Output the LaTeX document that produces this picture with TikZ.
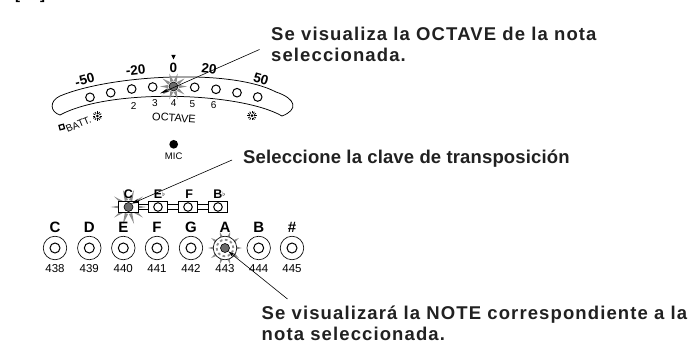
\documentclass[tikz,border=0pt]{standalone}
\usepackage{fontspec}
\setmainfont{Liberation Sans}
\usetikzlibrary{arrows.meta,calc}
\definecolor{burst}{gray}{0.55}
\definecolor{lit}{gray}{0.42}
\definecolor{ink}{gray}{0.13}
\tikzset{
  ledon/.style={circle,draw=black,line width=.6pt,fill=lit,inner sep=0pt,minimum size=9pt},
  led/.style={circle,draw=black,line width=1pt,fill=white,inner sep=0pt,minimum size=8.6pt},
  ring/.style={circle,draw=black,line width=.65pt,fill=white,inner sep=0pt,minimum size=23.5pt},
  inner/.style={circle,draw=black,line width=1pt,fill=white,inner sep=0pt,minimum size=10pt},
  sel/.style={rectangle,draw=black,line width=.7pt,fill=white,inner sep=0pt,minimum width=19.5pt,minimum height=10.5pt},
  scalelab/.style={font=\bfseries\fontsize{13.5}{14}\selectfont,inner sep=0pt},
  keylab/.style={font=\bfseries\fontsize{12.5}{13}\selectfont,inner sep=0pt},
  notelab/.style={font=\bfseries\fontsize{15}{16}\selectfont,inner sep=0pt},
  freq/.style={font=\fontsize{11.5}{12}\selectfont,inner sep=0pt},
  sm/.style={font=\fontsize{10}{11}\selectfont,inner sep=0pt},
  note/.style={text=ink,font=\bfseries\fontsize{18.5}{21}\selectfont,inner sep=0pt,anchor=north west,align=left},
  lead/.style={line width=.6pt,draw=black},
  spike/.style={fill=burst,draw=none},
}
\newcommand{\spikes}[5]{% centre, base radius, tip radius, half base angle, step
  \foreach \a in {0,#5,...,359}{\fill[spike] ($(#1)+(\a-#4:#2)$) -- ($(#1)+(\a:#3)$) -- ($(#1)+(\a+#4:#2)$) -- cycle;}}
\begin{document}
\begin{tikzpicture}[x=1pt,y=-1pt]
\useasboundingbox (0,0) rectangle (693,342);
\fill[white] (0,0) rectangle (693,342);
% cropped heading
\node[inner sep=0pt,anchor=base west,font=\bfseries\fontsize{15}{16}\selectfont] (head) at (15,0) {[\hspace{20pt}]};
% tuner outline
\draw[line width=.75pt,fill=white]
  (60,115) .. controls (50,112) and (49,101) .. (60,96)
  .. controls (110,75) and (230,68) .. (276,92)
  .. controls (297,99) and (298,110) .. (282,116)
  .. controls (240,92) and (110,88) .. (60,115) -- cycle;
% scale labels
\node[scalelab,rotate=15] (m50) at (84.7,80) {-50};
\node[scalelab,rotate=6] (m20) at (135.7,70) {-20};
\node[scalelab] (z) at (173.5,67.7) {0};
\node[scalelab,rotate=-6] (p20) at (209,69) {20};
\node[scalelab,rotate=-16] (p50) at (261,79) {50};
\fill (171.3,55) -- (175.7,55) -- (173.5,59.5) -- cycle;
% LEDs
\coordinate (c0) at (173.5,86.5);
\spikes{c0}{5.5}{13.5}{17}{36}
\node[led] (l1) at (90,97.3) {};
\node[led] (l2) at (110.7,92.7) {};
\node[led] (l3) at (131.7,89) {};
\node[led] (l4) at (152.7,87) {};
\node[ledon] (l5) at (173.5,86.5) {};
\node[led] (l6) at (194.7,87.3) {};
\node[led] (l7) at (216,89.3) {};
\node[led] (l8) at (237,92.7) {};
\node[led] (l9) at (257.7,97) {};
% octave digits
\node[sm] (o2) at (133.7,105.7) {2};
\node[sm] (o3) at (155,103.3) {3};
\node[sm] (o4) at (173.7,103.3) {4};
\node[sm] (o5) at (192.3,103.7) {5};
\node[sm] (o6) at (213.7,105.3) {6};
\node[sm,rotate=-4,font=\fontsize{11}{12}\selectfont] (oct) at (174,118) {OCTAVE};
\node[sm,rotate=23] (batt) at (78.5,124.5) {BATT.};
\draw[line width=1.3pt,rotate around={15:(61.7,127)}] (59.5,124.8) rectangle (64,129.3);
\node[circle,fill=black,inner sep=0pt,minimum size=3pt] (s1) at (97.3,116) {};
\node[circle,fill=black,inner sep=0pt,minimum size=3pt] (s2) at (252,115.7) {};
\foreach \a in {0,30,...,330}{
  \draw[line width=.8pt] ($(s1)+(\a:2.4)$) -- ($(s1)+(\a:4.6)$);
  \draw[line width=.8pt] ($(s2)+(\a:2.4)$) -- ($(s2)+(\a:4.6)$);}
% mic
\node[circle,fill=black,inner sep=0pt,minimum size=8.7pt] (micd) at (173.7,144.3) {};
\node[sm,font=\fontsize{9.5}{10}\selectfont] (mic) at (173.7,156.7) {MIC};
% callouts
\node[note] (t1) at (271,26.5) {\addfontfeature{LetterSpace=6}Se visualiza la OCTAVE de la nota\\\addfontfeature{LetterSpace=6}seleccionada.};
\node[note,anchor=base west] (t2) at (243,164) {\addfontfeature{LetterSpace=0.8}Seleccione la clave de transposición};
\node[note] (t3) at (261.5,305.5) {\addfontfeature{LetterSpace=6}Se visualizará la NOTE correspondiente a la\\\addfontfeature{LetterSpace=6}nota seleccionada.};
% selector row
\coordinate (c1) at (128.5,207);
\spikes{c1}{7}{18}{14}{36}
\node[sel] (s-c) at (128.5,207) {};
\node[sel] (s-e) at (158,207) {};
\node[sel] (s-f) at (188,207) {};
\node[sel] (s-b) at (218,207) {};
\foreach \p/\q in {s-c/s-e,s-e/s-f,s-f/s-b}{
  \draw[line width=.7pt] ($(\p.east)+(0,-2.5)$) -- ($(\q.west)+(0,-2.5)$);
  \draw[line width=.7pt] ($(\p.east)+(0,2.5)$) -- ($(\q.west)+(0,2.5)$);}
\node[ledon] (d1) at (128.5,207) {};
\node[led] (d2) at (158,207) {};
\node[led] (d3) at (188,207) {};
\node[led] (d4) at (218,207) {};
\node[keylab] (lc) at (128.5,194) {C};
\node[keylab] (le) at (159.5,194) {E\raisebox{2pt}{\fontsize{6}{6}\selectfont\mdseries$\flat$}};
\node[keylab] (lf) at (189.3,194) {F};
\node[keylab] (lb) at (219.5,194) {B\raisebox{2pt}{\fontsize{6}{6}\selectfont\mdseries$\flat$}};
% note row
\foreach \nn/\xx/\ll/\ff in {a/55/C/438,b/89.3/D/439,c/123.3/E/440,d/157/F/441,e/191/G/442,g/258.7/B/444,h/292/\#/445}{
  \node[ring] (r\nn) at (\xx,248) {};
  \node[inner] (i\nn) at (\xx,248) {};
  \node[notelab] (n\nn) at (\xx,227.3) {\ll};
  \node[freq] (f\nn) at (\xx,268.3) {\ff};
}
\coordinate (c2) at (225,248);
\spikes{c2}{10}{17}{10}{36}
\node[ring] (rf) at (225,248) {};
\draw[burst,line width=1.8pt,dash pattern=on 2.6pt off 2.6pt] (c2) circle (8.3pt);
\node[ledon] (if) at (225,248) {};
\node[notelab] (nf) at (225,227.3) {A};
\node[freq] (ff) at (225,268.3) {443};
% leaders
\coordinate (e1) at (259.5,49.5);
\coordinate (e2) at (232,160);
\coordinate (e3) at (287.5,299);
\coordinate (tipa) at (160,93.5);
\draw[lead,-{Stealth[length=9pt,width=3.5pt]}] (e1) -- (tipa);
\draw[lead,-{Stealth[length=7pt,width=4pt]}] (e2) -- (d1.north east);
\draw[lead,-{Stealth[length=7pt,width=4pt]}] (e3) -- (if.south east);
\end{tikzpicture}
\end{document}
